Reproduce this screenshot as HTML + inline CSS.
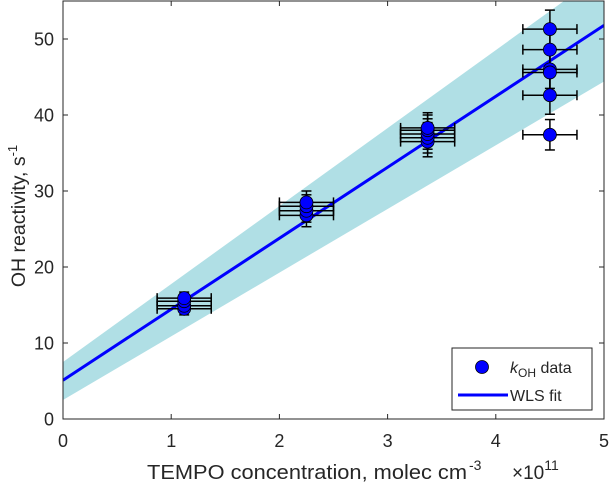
<!DOCTYPE html>
<html><head><meta charset="utf-8"><style>
body{margin:0;background:#fff;}
svg{display:block;font-family:"Liberation Sans",Arial,sans-serif;}
</style></head><body>
<svg id="chart" width="611" height="485" viewBox="0 0 611 485">
<defs><clipPath id="clip"><rect x="63" y="1" width="541" height="418"/></clipPath></defs>
<rect x="0" y="0" width="611" height="485" fill="#fff"/>
<g id="plot" clip-path="url(#clip)"></g>
<g id="axes"></g>
<g>
<rect x="452" y="348" width="140" height="62" fill="#fff" stroke="#262626" stroke-width="1"/>
<circle cx="482" cy="367" r="6.5" fill="#0000ff" stroke="#000" stroke-width="0.8"/>
<text x="510" y="373" font-size="16" fill="#262626"><tspan font-style="italic">k</tspan><tspan font-size="12" dy="4">OH</tspan><tspan dy="-4"> data</tspan></text>
<line x1="458" y1="395" x2="508" y2="395" stroke="#0000ff" stroke-width="3"/>
<text x="510" y="401" font-size="16" fill="#262626">WLS fit</text>
</g>
<text x="147" y="479" font-size="20.5" fill="#262626" textLength="320" lengthAdjust="spacingAndGlyphs">TEMPO concentration, molec cm</text>
<text x="469" y="470" font-size="14" fill="#262626">-3</text>
<text x="512" y="479" font-size="19" fill="#262626">×10<tspan font-size="14" dy="-9">11</tspan></text>
<text transform="translate(25,216) rotate(-90)" text-anchor="middle" font-size="19.5" fill="#262626">OH reactivity, s<tspan font-size="13" dy="-8">-1</tspan></text>
</svg>
<script>
const xTicks=[0,1,2,3,4,5];
const yTicks=[0,10,20,30,40,50];
const dataX=[1.12,1.12,1.12,1.12,2.25,2.25,2.25,2.25,3.37,3.37,3.37,3.37,3.37,4.5,4.5,4.5,4.5,4.5,4.5];
const dataY=[14.5,14.9,15.5,15.9,26.8,27.4,28.0,28.5,36.5,37.0,37.5,38.0,38.3,51.3,48.6,46.0,45.6,42.6,37.4];
const xErr=[0.25,0.25,0.25,0.25,0.25,0.25,0.25,0.25,0.25,0.25,0.25,0.25,0.25,0.25,0.25,0.25,0.25,0.25,0.25];
const yErr=[0.8,0.8,0.8,0.8,1.5,1.5,1.5,1.5,2,2,2,2,2,2.5,2.5,2.5,2.5,2.5,2];
const fitIntercept=5.1, fitSlope=9.34;
const bandLow=[2.5,44.4];
const bandHigh=[7.5,58.8];
const X=v=>63+v*(541/5);
const Y=v=>419-v*7.6;
const NS="http://www.w3.org/2000/svg";
function mk(t,attrs,parent){const e=document.createElementNS(NS,t);for(const k in attrs)e.setAttribute(k,attrs[k]);parent.appendChild(e);return e;}
const plot=document.getElementById('plot');
const axes=document.getElementById('axes');
let band=mk('polygon',{points:`${X(0)},${Y(bandLow[0])} ${X(5)},${Y(bandLow[1])} ${X(5)},${Y(bandHigh[1])} ${X(0)},${Y(bandHigh[0])}`,fill:'#b0dfe5'},plot);


let fit=mk('line',{x1:X(0),y1:Y(fitIntercept),x2:X(5),y2:Y(fitIntercept+5*fitSlope),stroke:'#0000ff','stroke-width':3},plot);


for(let i=0;i<dataX.length;i++){
  const g=mk('g',{stroke:'#000','stroke-width':1.5},plot);
  
  
  const cx=X(dataX[i]),cy=Y(dataY[i]);
  const xl=X(dataX[i]-xErr[i]),xr=X(dataX[i]+xErr[i]);
  const yt=Y(dataY[i]+yErr[i]),yb=Y(dataY[i]-yErr[i]);
  mk('line',{x1:xl,y1:cy,x2:xr,y2:cy},g);
  mk('line',{x1:xl,y1:cy-5,x2:xl,y2:cy+5},g);
  mk('line',{x1:xr,y1:cy-5,x2:xr,y2:cy+5},g);
  mk('line',{x1:cx,y1:yt,x2:cx,y2:yb},g);
  mk('line',{x1:cx-5,y1:yt,x2:cx+5,y2:yt},g);
  mk('line',{x1:cx-5,y1:yb,x2:cx+5,y2:yb},g);
}
for(let i=0;i<dataX.length;i++){
  const c=mk('circle',{cx:X(dataX[i]),cy:Y(dataY[i]),r:6.5,fill:'#0000ff',stroke:'#000','stroke-width':0.8},plot);
  
  
}
let box=mk('rect',{x:63,y:1,width:541,height:418,fill:'none',stroke:'#262626','stroke-width':1},axes);


xTicks.forEach(t=>{
  mk('line',{x1:X(t),y1:419,x2:X(t),y2:414,stroke:'#262626'},axes);
  mk('line',{x1:X(t),y1:1,x2:X(t),y2:6,stroke:'#262626'},axes);
  const tx=mk('text',{x:X(t),y:447,'text-anchor':'middle','font-size':18,fill:'#262626'},axes);
  tx.textContent=t;
  
  
});
yTicks.forEach(t=>{
  mk('line',{x1:63,y1:Y(t),x2:68,y2:Y(t),stroke:'#262626'},axes);
  mk('line',{x1:604,y1:Y(t),x2:599,y2:Y(t),stroke:'#262626'},axes);
  const tx=mk('text',{x:54,y:Y(t)+6.5,'text-anchor':'end','font-size':18,fill:'#262626'},axes);
  tx.textContent=t;
  
  
});
</script>
</body></html>
